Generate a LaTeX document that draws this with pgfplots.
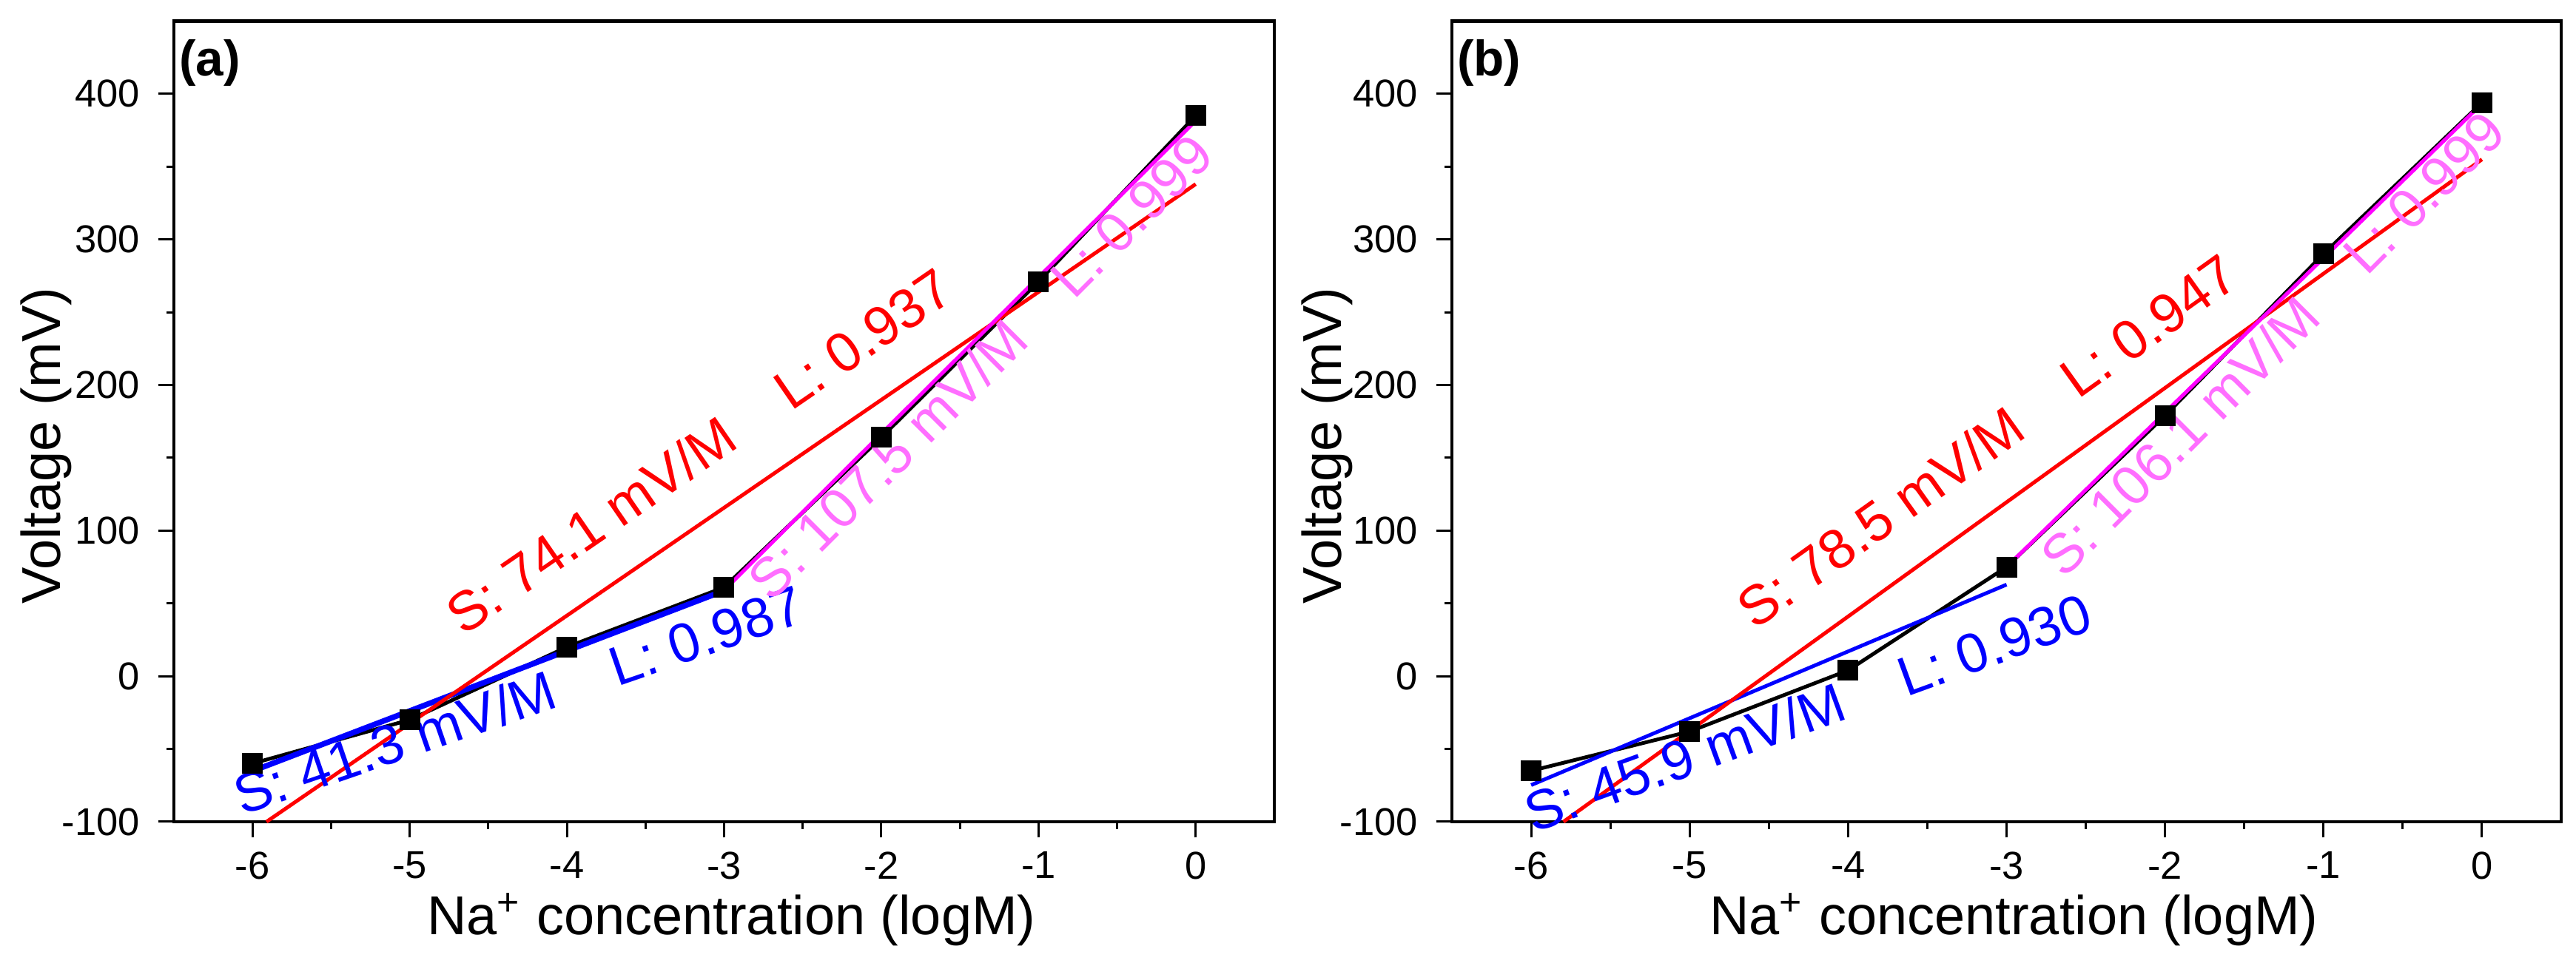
\documentclass[border=0pt]{standalone}
\usepackage{fontspec}
\setmainfont{Liberation Sans}
\usepackage{pgfplots}
\pgfplotsset{compat=1.18}
\definecolor{fitred}{RGB}{255,0,0}
\definecolor{fitblue}{RGB}{0,0,255}
\definecolor{fitmag}{RGB}{255,0,255}
\definecolor{txtmag}{RGB}{255,110,255}
\newcommand{\annfont}{\fontsize{15}{17}\selectfont}
\newcommand{\gap}{\hspace{1.1em}}
\tikzset{ann/.style={anchor=base west, inner sep=0pt, font=\annfont}}
\pgfplotsset{
  panel/.style={
    scale only axis,
    height=216.5pt,
    xmin=-6.5, xmax=0.5, ymin=-100, ymax=450,
    xtick={-6,-5,-4,-3,-2,-1,0},
    ytick={-100,0,100,200,300,400},
    minor x tick num=1, minor y tick num=1,
    tick align=outside, xtick pos=left, ytick pos=left,
    major tick length=4.3pt, minor tick length=2pt,
    every tick/.style={black, line width=0.6pt},
    axis line style={line width=0.85pt},
    tick label style={font=\fontsize{10.5}{12}\selectfont},
    /pgf/number format/assume math mode=true,
    xticklabel shift=0.3pt, yticklabel shift=1.4pt,
    label style={font=\fontsize{14.8}{17}\selectfont},
    xlabel={Na\textsuperscript{+} concentration (logM)},
    ylabel={Voltage (mV)},
    xlabel style={at={(axis description cs:0.5,0)}, anchor=base, yshift=-30.5pt, xshift=2pt},
    clip=false,
  },
  datline/.style={black, line width=1.0pt, mark=square*, mark size=2.3pt, mark options={solid}},
  fitr/.style={fitred, line width=1.0pt},
  fitm/.style={fitmag, line width=1.0pt},
}
\begin{document}
\begin{tikzpicture}
% ---------------- panel (a)
\begin{axis}[panel, width=297.4pt, at={(47pt,39pt)}, anchor=south west,
  ylabel style={at={(axis description cs:-0.1029,0.47)}, anchor=base}]
\addplot[datline] coordinates {(-6,-60) (-5,-30) (-4,20) (-3,61) (-2,164) (-1,271) (0,385)};
\addplot[fitblue, line width=1.5pt] coordinates {(-6,-65.2) (-3,58.7)};
\addplot[fitr] coordinates {(-5.911,-100) (0,338)};
\addplot[fitm] coordinates {(-3,59) (0,381.5)};
\node[ann, fitred, rotate=34.5] at (axis cs:-4.66,27) {S: 74.1 mV/M\gap L: 0.937};
\node[ann, fitblue, rotate=19] at (axis cs:-6.07,-96) {S: 41.3 mV/M\gap L: 0.987};
\node[ann, txtmag, rotate=45] at (axis cs:-2.70,50) {S: 107.5 mV/M\gap L: 0.999};
\node[anchor=north west, inner sep=0pt, font=\fontsize{13.5}{15}\selectfont\bfseries] at (axis description cs:0,1) [xshift=1.2pt, yshift=-4.8pt] {(a)};
\end{axis}
% ---------------- panel (b)
\begin{axis}[panel, width=299.8pt, at={(392.4pt,39pt)}, anchor=south west,
  ylabel style={at={(axis description cs:-0.100,0.47)}, anchor=base}]
\addplot[datline] coordinates {(-6,-65) (-5,-38) (-4,4) (-3,75) (-2,179) (-1,290) (0,394)};
\addplot[fitblue, line width=1.0pt] coordinates {(-6,-74.8) (-3,62.9)};
\addplot[fitr] coordinates {(-5.796,-100) (0,355)};
\addplot[fitm] coordinates {(-3,75) (0,393.3)};
\node[ann, fitred, rotate=35.5] at (axis cs:-4.59,31) {S: 78.5 mV/M\gap L: 0.947};
\node[ann, fitblue, rotate=20] at (axis cs:-5.99,-108) {S: 45.9 mV/M\gap L: 0.930};
\node[ann, txtmag, rotate=45] at (axis cs:-2.64,66) {S: 106.1 mV/M\gap L: 0.999};
\node[anchor=north west, inner sep=0pt, font=\fontsize{13.5}{15}\selectfont\bfseries] at (axis description cs:0,1) [xshift=1.2pt, yshift=-4.8pt] {(b)};
\end{axis}
\pgfresetboundingbox
\path[use as bounding box] (0,0) rectangle (696.2pt,261.2pt);
\end{tikzpicture}
\end{document}
